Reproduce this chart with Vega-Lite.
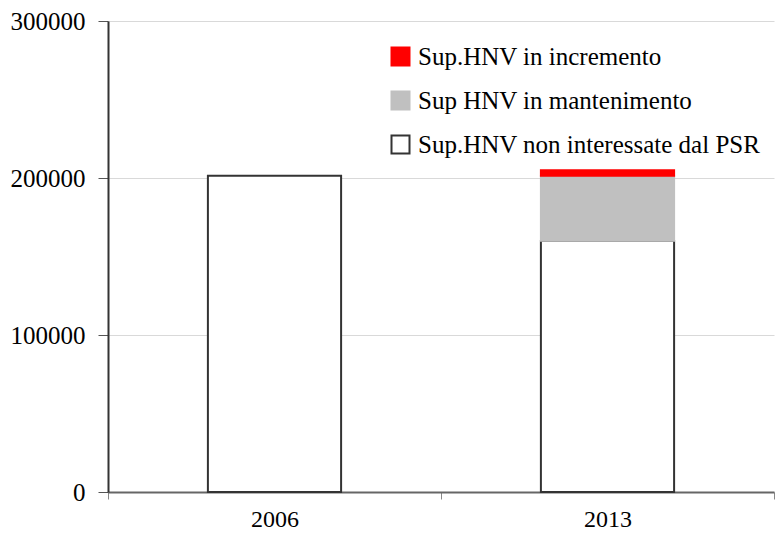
{
  "$schema": "https://vega.github.io/schema/vega-lite/v6.json",
  "width": 775,
  "height": 541,
  "autosize": {"type": "fit", "contains": "padding"},
  "padding": {"left": 10, "top": 9, "right": 0, "bottom": 10},
  "background": "white",
  "config": {"view": {"stroke": null}, "font": "Liberation Serif"},
  "data": {
    "values": [
      {"anno": "2006", "serie": "Sup.HNV non interessate dal PSR", "valore": 201500, "ord": 1},
      {"anno": "2013", "serie": "Sup.HNV non interessate dal PSR", "valore": 160000, "ord": 1},
      {"anno": "2013", "serie": "Sup HNV in mantenimento", "valore": 41500, "ord": 2},
      {"anno": "2013", "serie": "Sup.HNV in incremento", "valore": 3500, "ord": 3}
    ]
  },
  "mark": {"type": "bar", "strokeWidth": 2, "width": {"band": 0.4}},
  "encoding": {
    "x": {
      "field": "anno",
      "type": "nominal",
      "sort": ["2006", "2013"],
      "scale": {"paddingInner": 0, "paddingOuter": 0},
      "axis": {
        "title": null,
        "labelAngle": 0,
        "labelFontSize": 24,
        "labelColor": "#000",
        "labelPadding": 8,
        "domainColor": "#666",
        "domainWidth": 2,
        "tickBand": "extent",
        "tickColor": "#888",
        "tickSize": 7,
        "grid": false
      }
    },
    "y": {
      "field": "valore",
      "type": "quantitative",
      "stack": "zero",
      "scale": {"domain": [0, 300000], "nice": false},
      "axis": {
        "title": null,
        "values": [0, 100000, 200000, 300000],
        "format": "d",
        "labelFontSize": 25,
        "labelColor": "#000",
        "labelPadding": 13,
        "gridColor": "#d9d9d9",
        "domainColor": "#333",
        "domainWidth": 2,
        "tickColor": "#555",
        "tickSize": 10
      }
    },
    "fill": {
      "field": "serie",
      "type": "nominal",
      "scale": {
        "domain": ["Sup.HNV in incremento", "Sup HNV in mantenimento", "Sup.HNV non interessate dal PSR"],
        "range": ["#ff0000", "#c0c0c0", "#ffffff"]
      },
      "legend": {
        "title": null,
        "orient": "none",
        "legendX": 280,
        "legendY": 23,
        "symbolType": "square",
        "symbolSize": 324,
        "symbolStrokeWidth": 2,
        "labelFontSize": 25,
        "labelColor": "#000",
        "labelOffset": 5,
        "rowPadding": 17,
        "labelLimit": 500
      }
    },
    "stroke": {
      "field": "serie",
      "type": "nominal",
      "scale": {
        "domain": ["Sup.HNV in incremento", "Sup HNV in mantenimento", "Sup.HNV non interessate dal PSR"],
        "range": ["#ff0000", "#c0c0c0", "#333333"]
      }
    },
    "order": {"field": "ord"}
  }
}
